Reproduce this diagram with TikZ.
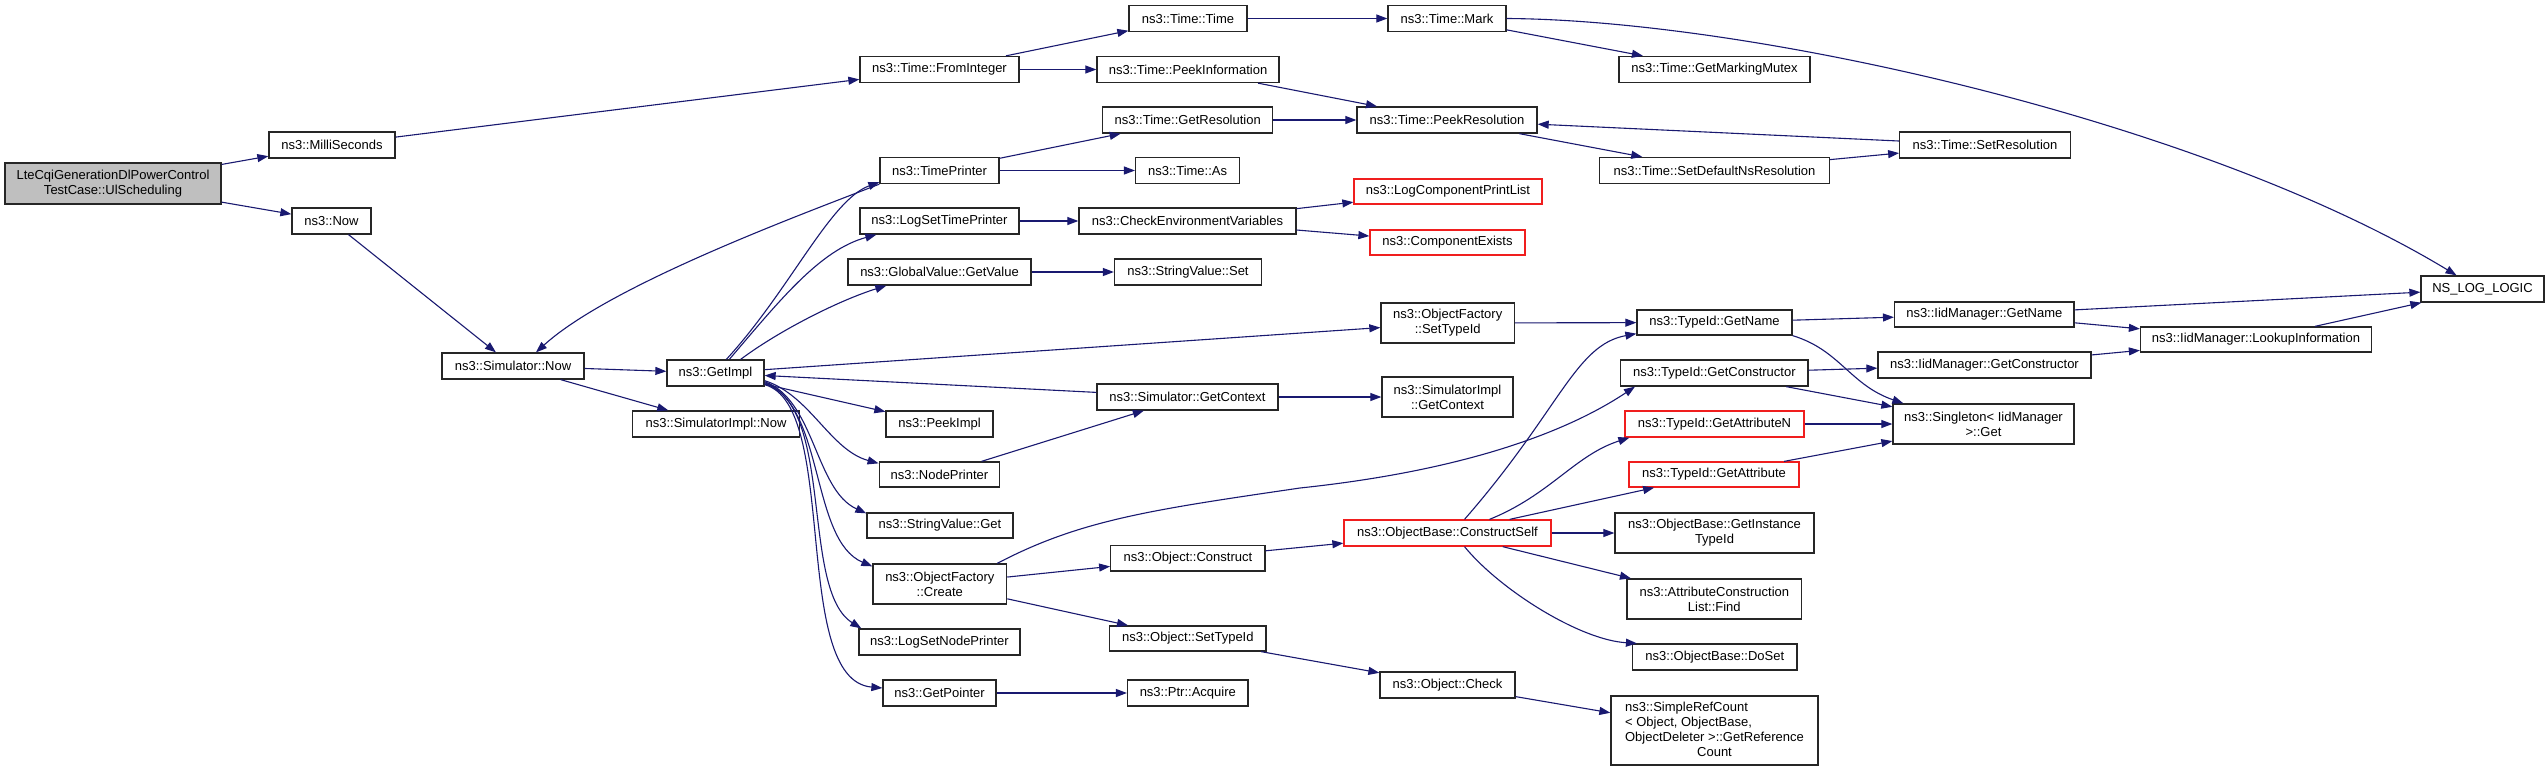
\documentclass[tikz,border=0pt]{standalone}
\usepackage{fontspec}
\setmainfont{Liberation Sans}
\usetikzlibrary{arrows.meta,calc}
\definecolor{navyc}{RGB}{25,25,112}
\definecolor{redline}{RGB}{240,30,30}
\definecolor{mainfill}{RGB}{191,191,191}
\newcommand{\lbl}{\fontsize{13}{15}\selectfont}
\tikzset{
  box/.style={draw=black!85, line width=1.3pt, fill=white, inner sep=0pt, minimum height=26pt, align=center, font=\lbl},
  box2/.style={box, minimum height=40pt},
  redbox/.style={box, draw=redline},
  edge/.style={draw=navyc, line width=1.1pt, -{Triangle[length=11pt,width=8pt]}}
}
\begin{document}
\begin{tikzpicture}[x=1pt,y=-1pt]
\useasboundingbox[fill=white] (0,0) rectangle (2547,771);
% nodes
\node[box2, fill=mainfill, minimum width=216pt, minimum height=41pt] (main) at (113,183.5) {LteCqiGenerationDlPowerControl\\TestCase::UlScheduling};
\node[box, minimum width=126pt] (milli) at (332,145) {ns3::MilliSeconds};
\node[box, minimum width=79pt] (now) at (331.5,221) {ns3::Now};
\node[box, minimum width=142pt] (simnow) at (513,366) {ns3::Simulator::Now};
\node[box, minimum width=97pt] (getimpl) at (715.5,373) {ns3::GetImpl};
\node[box, minimum width=167pt] (simimplnow) at (716,424) {ns3::SimulatorImpl::Now};
\node[box, minimum width=159pt] (fromint) at (939.5,69.5) {ns3::Time::FromInteger};
\node[box, minimum width=118pt] (timetime) at (1188,18.5) {ns3::Time::Time};
\node[box, minimum width=118pt] (mark) at (1447,18.5) {ns3::Time::Mark};
\node[box, minimum width=182pt] (peekinfo) at (1188,69.5) {ns3::Time::PeekInformation};
\node[box, minimum width=191pt] (mutex) at (1714.5,69.5) {ns3::Time::GetMarkingMutex};
\node[box, minimum width=170pt] (getres) at (1187.7,120) {ns3::Time::GetResolution};
\node[box, minimum width=180pt] (peekres) at (1447,120) {ns3::Time::PeekResolution};
\node[box, minimum width=119pt] (timeprinter) at (939.5,170.5) {ns3::TimePrinter};
\node[box, minimum width=104pt] (as) at (1187.6,170.5) {ns3::Time::As};
\node[box, minimum width=230pt] (setdefault) at (1714.5,170.5) {ns3::Time::SetDefaultNsResolution};
\node[box, minimum width=170.5pt] (setres) at (1985,145) {ns3::Time::SetResolution};
\node[redbox, minimum width=188pt, minimum height=25pt] (logcomp) at (1448,191.5) {ns3::LogComponentPrintList};
\node[box, minimum width=159pt] (logsettime) at (939.5,221) {ns3::LogSetTimePrinter};
\node[box, minimum width=217pt] (checkenv) at (1187.5,221) {ns3::CheckEnvironmentVariables};
\node[redbox, minimum width=155pt, minimum height=25pt] (compexists) at (1447.5,242.5) {ns3::ComponentExists};
\node[box, minimum width=183pt] (globalvalue) at (939.5,272) {ns3::GlobalValue::GetValue};
\node[box, minimum width=147pt] (stringset) at (1188,272) {ns3::StringValue::Set};
\node[box2, minimum width=133.5pt] (ofsettypeid) at (1447.7,323) {ns3::ObjectFactory\\::SetTypeId};
\node[box, minimum width=155pt, minimum height=25pt] (typeidgetname) at (1714.5,322.5) {ns3::TypeId::GetName};
\node[box2, minimum width=131pt] (simimplgetctx) at (1447.5,397) {ns3::SimulatorImpl\\::GetContext};
\node[box, minimum width=181pt] (simgetctx) at (1187.5,397) {ns3::Simulator::GetContext};
\node[box, minimum width=107pt] (peekimpl) at (939.5,424) {ns3::PeekImpl};
\node[box, minimum width=120.6pt, minimum height=25pt] (nodeprinter) at (939.5,474.5) {ns3::NodePrinter};
\node[box, minimum width=146pt, minimum height=25pt] (stringget) at (940,525.5) {ns3::StringValue::Get};
\node[box2, minimum width=133.6pt] (ofcreate) at (939.8,584) {ns3::ObjectFactory\\::Create};
\node[box, minimum width=161pt] (logsetnode) at (939.4,642) {ns3::LogSetNodePrinter};
\node[box, minimum width=113pt] (getpointer) at (939.5,693) {ns3::GetPointer};
\node[box, minimum width=120.5pt] (ptracquire) at (1187.8,693) {ns3::Ptr::Acquire};
\node[box, minimum width=154.3pt, minimum height=25.3pt] (objconstruct) at (1187.9,558.4) {ns3::Object::Construct};
\node[box, minimum width=156.4pt, minimum height=25pt] (objsettypeid) at (1187.8,638.5) {ns3::Object::SetTypeId};
\node[box, minimum width=135pt] (objcheck) at (1447.5,685) {ns3::Object::Check};
\node[redbox, minimum width=207pt] (constructself) at (1447.5,533) {ns3::ObjectBase::ConstructSelf};
\node[box, minimum width=187.4pt] (typeidgetctor) at (1714.3,373) {ns3::TypeId::GetConstructor};
\node[redbox, minimum width=179pt] (getattrn) at (1714.5,424) {ns3::TypeId::GetAttributeN};
\node[redbox, minimum width=170pt, minimum height=25pt] (getattr) at (1714,474.5) {ns3::TypeId::GetAttribute};
\node[box2, minimum width=199pt] (getinstance) at (1714.5,533) {ns3::ObjectBase::GetInstance\\TypeId};
\node[box2, minimum width=174.6pt] (attrfind) at (1714.3,599) {ns3::AttributeConstruction\\List::Find};
\node[box, minimum width=164.5pt] (doset) at (1714.8,657) {ns3::ObjectBase::DoSet};
\node[box, minimum width=207pt, minimum height=69pt] (simpleref) at (1714.5,730.5) {\begin{tabular}{@{}l@{}}ns3::SimpleRefCount\\ {<} Object, ObjectBase,\\ \multicolumn{1}{@{}c@{}}{ObjectDeleter {>}::GetReference}\\ \multicolumn{1}{@{}c@{}}{Count}\end{tabular}};
\node[box2, minimum width=181pt] (singleton) at (1983.5,424) {ns3::Singleton{<} IidManager\\{>}::Get};
\node[box, minimum width=179.4pt, minimum height=25pt] (iidgetname) at (1984.3,314.5) {ns3::IidManager::GetName};
\node[box, minimum width=213pt] (iidgetctor) at (1984.5,365) {ns3::IidManager::GetConstructor};
\node[box, minimum width=231pt, minimum height=25pt] (lookup) at (2256,339.5) {ns3::IidManager::LookupInformation};
\node[box, minimum width=123pt] (nslog) at (2482.5,289) {NS\_LOG\_LOGIC};
% straight edges
\draw[edge] (main) -- (milli);
\draw[edge] (main) -- (now);
\draw[edge] (milli) -- (fromint);
\draw[edge] (now) -- (simnow);
\draw[edge] (simnow) -- (getimpl);
\draw[edge] (simnow) -- (simimplnow);
\draw[edge] (fromint) -- (timetime);
\draw[edge] (fromint) -- (peekinfo);
\draw[edge] (timetime) -- (mark);
\draw[edge] (mark) -- (mutex);
\draw[edge] (peekinfo) -- (peekres);
\draw[edge] (getres) -- (peekres);
\draw[edge] (peekres) -- (setdefault);
\draw[edge] (setdefault) -- (setres);
\draw[edge] (setres) -- (peekres);
\draw[edge] (timeprinter) -- (getres);
\draw[edge] (timeprinter) -- (as);
\draw[edge] (logsettime) -- (checkenv);
\draw[edge] (checkenv) -- (logcomp);
\draw[edge] (checkenv) -- (compexists);
\draw[edge] (globalvalue) -- (stringset);
\draw[edge] (getimpl) -- (ofsettypeid);
\draw[edge] (simgetctx) -- (getimpl);
\draw[edge] (getimpl) -- (peekimpl);
\draw[edge] (nodeprinter) -- (simgetctx);
\draw[edge] (simgetctx) -- (simimplgetctx);
\draw[edge] (ofsettypeid) -- (typeidgetname);
\draw[edge] (ofcreate) -- (objconstruct);
\draw[edge] (ofcreate) -- (objsettypeid);
\draw[edge] (objconstruct) -- (constructself);
\draw[edge] (objsettypeid) -- (objcheck);
\draw[edge] (objcheck) -- (simpleref);
\draw[edge] (getpointer) -- (ptracquire);
\draw[edge] (constructself) -- (getattr);
\draw[edge] (constructself) -- (getinstance);
\draw[edge] (constructself) -- (attrfind);
\draw[edge] (typeidgetname) -- (iidgetname);
\draw[edge] (typeidgetctor) -- (iidgetctor);
\draw[edge] (typeidgetctor) -- (singleton);
\draw[edge] (getattrn) -- (singleton);
\draw[edge] (getattr) -- (singleton);
\draw[edge] (iidgetname) -- (nslog);
\draw[edge] (iidgetname) -- (lookup);
\draw[edge] (iidgetctor) -- (lookup);
\draw[edge] (lookup) -- (nslog);
% curved edges
\draw[edge] (timeprinter.south west) .. controls (800,215) and (610,285) .. ($(simnow.north)+(23,0)$);
\draw[edge] ($(getimpl.north west)+(60,0)$) .. controls (790,290) and (830,200) .. ($(timeprinter.south west)+(0,-2)$);
\draw[edge] ($(getimpl.north west)+(63,0)$) .. controls (780,300) and (820,250) .. ($(logsettime.south west)+(17,0)$);
\draw[edge] ($(getimpl.north east)+(-24,0)$) .. controls (780,330) and (840,300) .. ($(globalvalue.south west)+(39,0)$);
\draw[edge] ($(getimpl.south east)+(0,-6)$) .. controls (810,395) and (830,450) .. ($(nodeprinter.north west)+(0,2)$);
\draw[edge] ($(getimpl.south east)+(0,-5)$) .. controls (815,400) and (815,490) .. ($(stringget.north west)+(0,1)$);
\draw[edge] ($(getimpl.south east)+(0,-4)$) .. controls (825,405) and (810,540) .. ($(ofcreate.north west)+(0,3)$);
\draw[edge] ($(getimpl.south east)+(0,-3)$) .. controls (835,405) and (800,590) .. ($(logsetnode.north west)+(3,0)$);
\draw[edge] ($(getimpl.south east)+(0,-2)$) .. controls (840,405) and (790,680) .. ($(getpointer.west)+(0,-5)$);
\draw[edge] ($(ofcreate.north east)+(-10,0)$) .. controls (1080,520) and (1150,510) .. (1300,488) .. controls (1470,470) and (1570,430) .. ($(typeidgetctor.south west)+(15,0)$);
\draw[edge] ($(constructself.north)+(17,0)$) .. controls (1560,410) and (1575,345) .. ($(typeidgetname.south west)+(0,-2)$);
\draw[edge] ($(constructself.north)+(42,0)$) .. controls (1550,495) and (1575,455) .. ($(getattrn.south west)+(5,0)$);
\draw[edge] ($(constructself.south)+(17,0)$) .. controls (1500,590) and (1580,640) .. ($(doset.north west)+(5,0)$);
\draw[edge] (typeidgetname.south east) .. controls (1840,350) and (1850,385) .. ($(singleton.north west)+(11,0)$);
\draw[edge] (mark.east) .. controls (1750,20) and (2200,120) .. ($(nslog.north)+(-26,0)$);
\end{tikzpicture}
\end{document}
